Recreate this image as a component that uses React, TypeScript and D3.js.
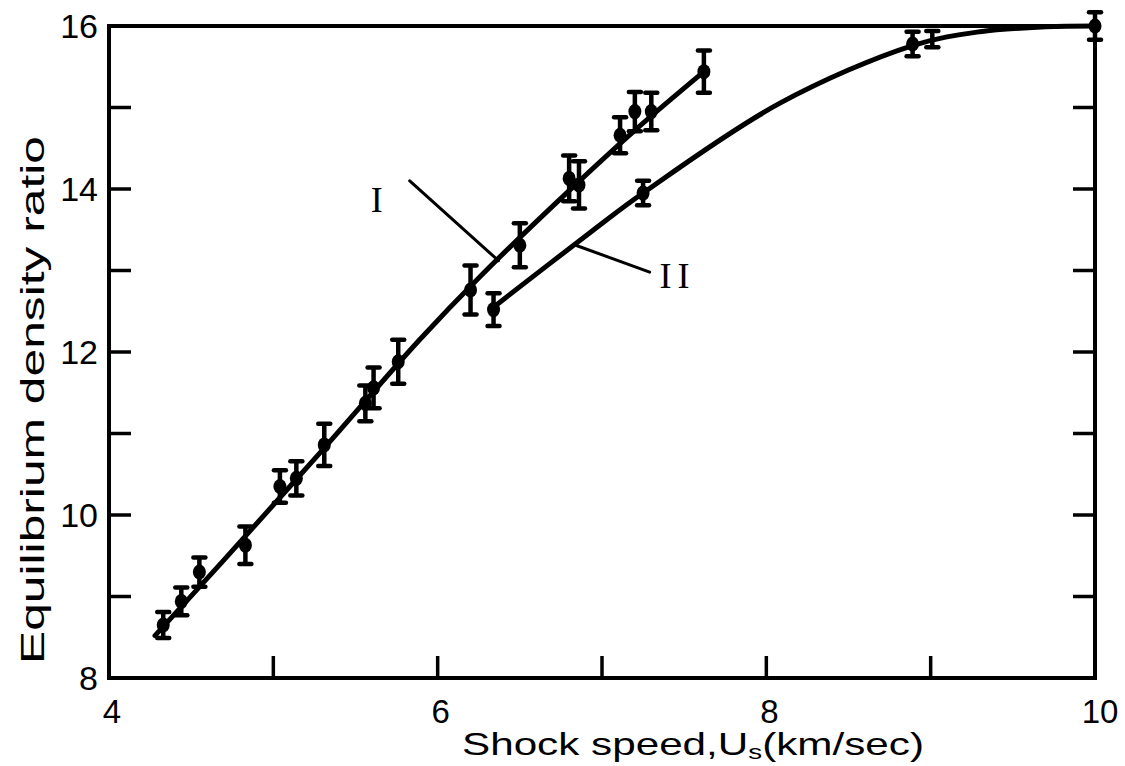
import React from "react";
import * as d3 from "d3";

// Curve I: measured points
const pointsIX = [4.33, 4.44, 4.55, 4.83, 5.04, 5.14, 5.31, 5.56, 5.61, 5.76, 6.2, 6.5, 6.8, 6.86, 7.11, 7.2, 7.3, 7.62];
const pointsIY = [8.65, 8.94, 9.3, 9.63, 10.35, 10.45, 10.86, 11.37, 11.56, 11.88, 12.76, 13.31, 14.13, 14.05, 14.66, 14.95, 14.95, 15.44];
const errorsI = [0.16, 0.17, 0.18, 0.23, 0.2, 0.21, 0.26, 0.22, 0.25, 0.27, 0.3, 0.27, 0.28, 0.29, 0.22, 0.24, 0.23, 0.26];

// Curve II: measured points
const pointsIIX = [6.34, 7.25, 8.89, 9.01, 10.0];
const pointsIIY = [12.52, 13.95, 15.78, 15.84, 16.0];
const errorsII = [0.2, 0.15, 0.15, 0.1, 0.17];

// Fitted curves
const curveIX = [4.28, 4.7, 5.3, 5.89, 6.26, 6.8, 7.2, 7.62];
const curveIY = [8.52, 9.45, 10.8, 12.15, 12.93, 13.98, 14.72, 15.44];
const curveIIX = [6.34, 6.95, 7.25, 8.08, 8.89, 9.3, 9.7, 10.0];
const curveIIY = [12.55, 13.5, 13.95, 15.05, 15.76, 15.93, 15.99, 16.0];

// Axis ticks
const xTickLabels = [4, 6, 8, 10];
const xTicksInner = [5, 6, 7, 8, 9];
const yTickLabels = [8, 10, 12, 14, 16];
const yTicksInner = [9, 10, 11, 12, 13, 14, 15];

// Annotations
const labelNames = ["I", "II"];
const labelPos = [[5.63, 13.88], [7.46, 12.95]];
const leaderFrom = [[5.83, 14.1], [6.84, 13.31]];
const leaderTo = [[6.37, 13.12], [7.29, 12.98]];

export default function App() {
  const W = 1125, H = 766;
  const x = d3.scaleLinear().domain([4, 10]).range([109, 1095]);
  const y = d3.scaleLinear().domain([8, 16]).range([678, 26]);

  const line = d3
    .line<[number, number]>()
    .x((d) => x(d[0]))
    .y((d) => y(d[1]))
    .curve(d3.curveCatmullRom.alpha(0.5));

  const cI: [number, number][] = curveIX.map((v, i) => [v, curveIY[i]]);
  const cII: [number, number][] = curveIIX.map((v, i) => [v, curveIIY[i]]);

  const ptsI = pointsIX.map((v, i) => ({ x: v, y: pointsIY[i], e: errorsI[i] }));
  const ptsII = pointsIIX.map((v, i) => ({ x: v, y: pointsIIY[i], e: errorsII[i] }));

  const sans = "'Liberation Sans', Arial, sans-serif";
  const serif = "'Liberation Serif', 'DejaVu Serif', serif";
  const tickLen = 22;

  const renderPoint = (p: { x: number; y: number; e: number }, key: string, showDot = true) => {
    const cx = x(p.x), cy = y(p.y), y1 = y(p.y + p.e), y2 = y(p.y - p.e);
    return (
      <g key={key}>
        <line x1={cx} x2={cx} y1={y1} y2={y2} stroke="#000" strokeWidth={4.5} />
        <line x1={cx - 6} x2={cx + 6} y1={y1} y2={y1} stroke="#000" strokeWidth={4.5} strokeLinecap="round" />
        <line x1={cx - 6} x2={cx + 6} y1={y2} y2={y2} stroke="#000" strokeWidth={4.5} strokeLinecap="round" />
        {showDot && <ellipse cx={cx} cy={cy} rx={6.5} ry={7.5} fill="#000" />}
      </g>
    );
  };

  return (
    <svg width={W} height={H} style={{ position: "absolute", left: 0, top: 0, background: "#fff" }}>
      <rect x={0} y={0} width={W} height={H} fill="#fff" />
      {/* frame */}
      <rect x={x(4)} y={y(16)} width={x(10) - x(4)} height={y(8) - y(16)} fill="none" stroke="#000" strokeWidth={4} />
      {/* bottom inner ticks */}
      {xTicksInner.map((t) => (
        <line key={"xb" + t} x1={x(t)} x2={x(t)} y1={y(8)} y2={y(8) - tickLen} stroke="#000" strokeWidth={3.5} />
      ))}
      {/* left & right inner ticks */}
      {yTicksInner.map((t) => (
        <g key={"yt" + t}>
          <line x1={x(4)} x2={x(4) + tickLen} y1={y(t)} y2={y(t)} stroke="#000" strokeWidth={3.5} />
          <line x1={x(10)} x2={x(10) - tickLen} y1={y(t)} y2={y(t)} stroke="#000" strokeWidth={3.5} />
        </g>
      ))}
      {/* tick labels */}
      {xTickLabels.map((t) => (
        <text key={"xl" + t} x={x(t) + (t === 10 ? 5 : 3)} y={y(8) + 45} textAnchor="middle" fontFamily={sans} fontSize={33} fill="#000">
          {t}
        </text>
      ))}
      {yTickLabels.map((t) => (
        <text key={"yl" + t} x={98} y={y(t) + 12} textAnchor="end" fontFamily={sans} fontSize={34} fill="#000">
          {t}
        </text>
      ))}
      {/* axis titles */}
      <text x={693} y={755} textAnchor="middle" fontFamily={sans} fontSize={32} fill="#000" textLength={462} lengthAdjust="spacingAndGlyphs">
        Shock speed,U<tspan fontSize={21} dy={4}>s</tspan><tspan dy={-4}>(km/sec)</tspan>
      </text>
      <text
        transform={`translate(44, ${400}) rotate(-90)`}
        textAnchor="middle"
        fontFamily={sans}
        fontSize={33}
        fill="#000"
        textLength={528}
        lengthAdjust="spacingAndGlyphs"
      >
        Equilibrium density ratio
      </text>
      {/* curves */}
      <path d={line(cI) || ""} fill="none" stroke="#000" strokeWidth={5} strokeLinecap="round" />
      <path d={line(cII) || ""} fill="none" stroke="#000" strokeWidth={5} strokeLinecap="round" />
      {/* points */}
      {ptsI.map((p, i) => renderPoint(p, "pI" + i))}
      {ptsII.map((p, i) => renderPoint(p, "pII" + i, i !== 3))}
      {/* leaders and labels */}
      {labelNames.map((n, i) => (
        <g key={"lab" + i}>
          <line
            x1={x(leaderFrom[i][0])}
            y1={y(leaderFrom[i][1])}
            x2={x(leaderTo[i][0])}
            y2={y(leaderTo[i][1])}
            stroke="#000"
            strokeWidth={3}
            strokeLinecap="round"
          />
          <text x={x(labelPos[i][0])} y={y(labelPos[i][1]) + 13} textAnchor="middle" fontFamily={serif} fontSize={36} fill="#000" letterSpacing={i === 1 ? 6 : 0}>
            {n}
          </text>
        </g>
      ))}
    </svg>
  );
}
